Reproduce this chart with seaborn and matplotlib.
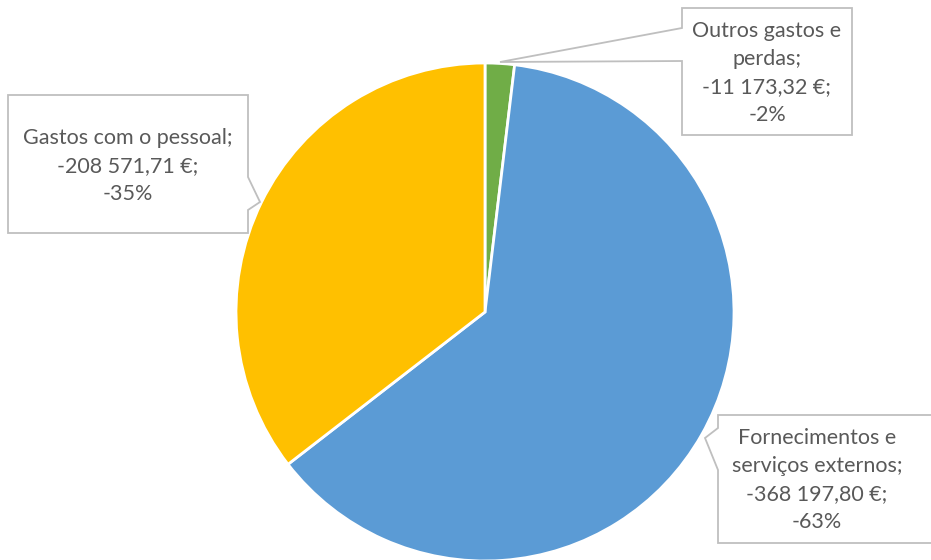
import matplotlib
matplotlib.use("Agg")
import matplotlib.pyplot as plt
import seaborn as sns
from matplotlib.patches import Polygon

# chart data
categories = ["Outros gastos e\nperdas", "Fornecimentos e\nserviços externos", "Gastos com o pessoal"]
values = [-11173.32, -368197.80, -208571.71]
colors = ["#70AD47", "#5B9BD5", "#FFC000"]

sns.set_theme(style="white")
plt.rcParams['font.family'] = ['Lato', 'DejaVu Sans']

W, H = 931, 560
fig = plt.figure(figsize=(W / 100, H / 100), dpi=100)

# pie axes: centre (485, 312) px, radius 249 px
cx, cy, r = 485, 312, 249
ax = fig.add_axes([(cx - r) / W, (H - cy - r) / H, 2 * r / W, 2 * r / H])
ax.pie([abs(v) for v in values], colors=colors, startangle=90, counterclock=False,
       wedgeprops=dict(edgecolor="white", linewidth=2))
ax.set_xlim(-1, 1)
ax.set_ylim(-1, 1)
ax.set_aspect("equal")
ax.axis("off")

# overlay axes in pixel coordinates for the callouts
ov = fig.add_axes([0, 0, 1, 1], zorder=5)
ov.set_xlim(0, W)
ov.set_ylim(H, 0)
ov.axis("off")
ov.patch.set_alpha(0)

total = sum(abs(v) for v in values)


def fmt_eur(v):
    s = f"{abs(v):,.2f}".replace(",", " ").replace(".", ",")
    return ("-" if v < 0 else "") + s + " €"


def fmt_pct(v):
    return f"{round(v / total * 100):.0f}%"


callouts = [
    # (polygon, text centre)
    ([(682, 8), (852, 8), (852, 135), (682, 135), (682, 61), (500, 62), (682, 28)], (767, 73)),
    ([(718, 415), (945, 415), (945, 543), (718, 543), (718, 470), (705, 438), (718, 428)], (817, 480)),
    ([(8, 95), (248, 95), (248, 177), (260, 202), (248, 210), (248, 233), (8, 233)], (128, 166)),
]

for (poly, (tx, ty)), name, v in zip(callouts, categories, values):
    ov.add_patch(Polygon(poly, closed=True, facecolor="white", edgecolor="#BFBFBF", linewidth=1.3))
    label = f"{name};\n{fmt_eur(v)};\n{fmt_pct(v)}"
    ov.text(tx, ty, label, ha="center", va="center", fontsize=15.5, color="#595959",
            linespacing=1.5)

fig.savefig("out.png", dpi=100)
